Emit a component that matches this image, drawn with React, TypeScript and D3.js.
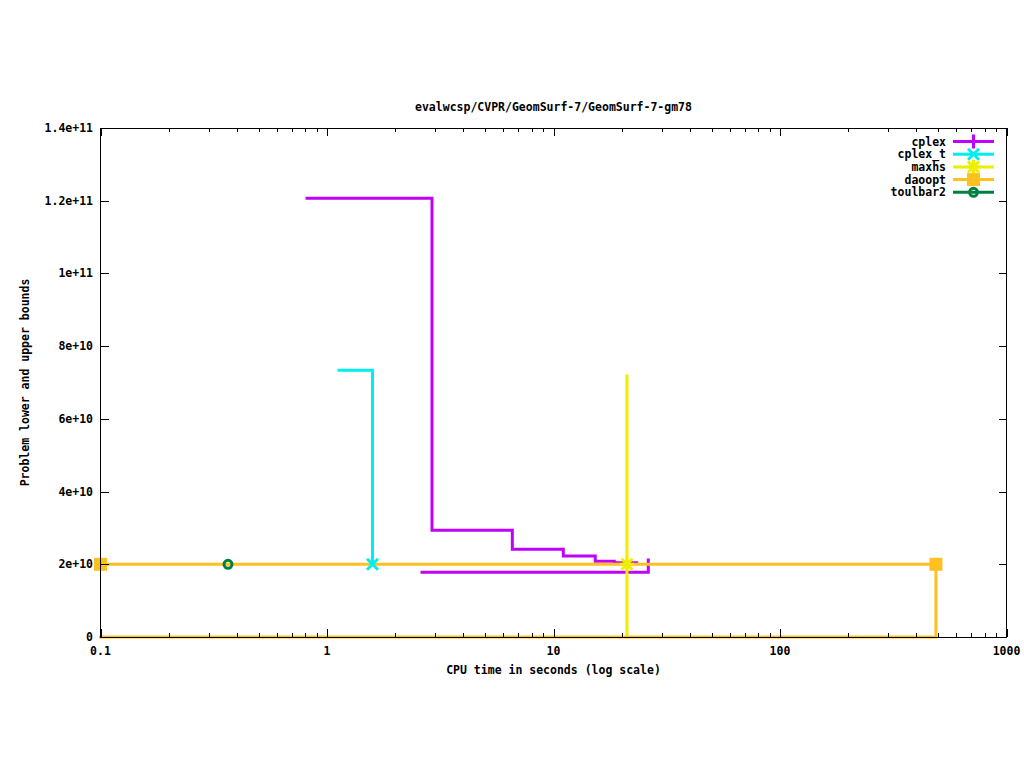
import React from "react";
import * as d3 from "d3";

// ---- data ----
const TITLE = "evalwcsp/CVPR/GeomSurf-7/GeomSurf-7-gm78";
const X_LABEL = "CPU time in seconds (log scale)";
const Y_LABEL = "Problem lower and upper bounds";
const xTickValues = [0.1, 1, 10, 100, 1000];
const xTickLabels = ["0.1", "1", "10", "100", "1000"];
const yTickValues = [0, 2e10, 4e10, 6e10, 8e10, 1e11, 1.2e11, 1.4e11];
const yTickLabels = ["0", "2e+10", "4e+10", "6e+10", "8e+10", "1e+11", "1.2e+11", "1.4e+11"];

const seriesNames = ["cplex", "cplex_t", "maxhs", "daoopt", "toulbar2"];
const seriesColors = ["#c000ff", "#00eeee", "#eeee00", "#ffc020", "#008040"];
const seriesMarkers = ["plus", "cross", "star", "square", "circle"];

// upper bound step series (time, value)
const cplexUpperT = [0.816, 2.908, 6.58, 11.05, 15.29, 18.55, 23.29];
const cplexUpperV = [1.2066e11, 2.935e10, 2.412e10, 2.228e10, 2.082e10, 2.043e10, 2.043e10];
const cplexLowerT = [2.627, 26.21];
const cplexLowerV = [1.779e10, 2.118e10];

const cplexTUpperT = [1.13, 1.588];
const cplexTUpperV = [7.335e10, 2.0e10];

const maxhsUpperT = [21.11, 21.11];
const maxhsUpperV = [7.179e10, 2.0e10];
const maxhsLowerT = [21.11, 21.11];
const maxhsLowerV = [0, 2.0e10];

const daooptUpperT = [0.1, 488];
const daooptUpperV = [2.0e10, 2.0e10];
const daooptLowerT = [0.1, 488];
const daooptLowerV = [0, 2.0e10];

// marker points
const cplexTPointT = [1.588];
const cplexTPointV = [2.0e10];
const maxhsPointT = [21.11];
const maxhsPointV = [2.0e10];
const daooptPointT = [0.1, 488];
const daooptPointV = [2.0e10, 2.0e10];
const toulbarPointT = [0.3655];
const toulbarPointV = [2.0e10];

// ---- layout ----
const W = 1024, H = 768;
const L = 100.5, R = 1006.5, T = 128, B = 637;
const FONT = "'DejaVu Sans Mono', 'Liberation Mono', monospace";

const x = d3.scaleLog().domain([0.1, 1000]).range([L, R]);
const y = d3.scaleLinear().domain([0, 1.4e11]).range([B, T]);

const stepLine = d3
  .line<[number, number]>()
  .x((d) => x(d[0]))
  .y((d) => y(d[1]))
  .curve(d3.curveStepAfter);

const zip = (ts: number[], vs: number[]) => ts.map((t, i) => [t, vs[i]] as [number, number]);

function Marker({ type, cx, cy, color }: { type: string; cx: number; cy: number; color: string }) {
  const sw = 3;
  if (type === "plus") {
    return (
      <g stroke={color} strokeWidth={sw}>
        <line x1={cx - 7} y1={cy} x2={cx + 7} y2={cy} />
        <line x1={cx} y1={cy - 7} x2={cx} y2={cy + 7} />
      </g>
    );
  }
  if (type === "cross") {
    return (
      <g stroke={color} strokeWidth={sw}>
        <line x1={cx - 5.5} y1={cy - 5.5} x2={cx + 5.5} y2={cy + 5.5} />
        <line x1={cx - 5.5} y1={cy + 5.5} x2={cx + 5.5} y2={cy - 5.5} />
      </g>
    );
  }
  if (type === "star") {
    return (
      <g stroke={color} strokeWidth={sw}>
        <line x1={cx - 5.5} y1={cy - 5.5} x2={cx + 5.5} y2={cy + 5.5} />
        <line x1={cx - 5.5} y1={cy + 5.5} x2={cx + 5.5} y2={cy - 5.5} />
        <line x1={cx - 7} y1={cy} x2={cx + 7} y2={cy} />
        <line x1={cx} y1={cy - 7} x2={cx} y2={cy + 7} />
      </g>
    );
  }
  if (type === "square") {
    return <rect x={cx - 6.5} y={cy - 6.5} width={13} height={13} fill={color} />;
  }
  return <circle cx={cx} cy={cy} r={4} fill="none" stroke={color} strokeWidth={3} />;
}

export default function App() {
  const lines: { d: string; color: string }[] = [
    { d: stepLine(zip(cplexUpperT, cplexUpperV)) || "", color: seriesColors[0] },
    { d: stepLine(zip(cplexLowerT, cplexLowerV)) || "", color: seriesColors[0] },
    { d: stepLine(zip(cplexTUpperT, cplexTUpperV)) || "", color: seriesColors[1] },
    { d: stepLine(zip(maxhsUpperT, maxhsUpperV)) || "", color: seriesColors[2] },
    { d: stepLine(zip(maxhsLowerT, maxhsLowerV)) || "", color: seriesColors[2] },
    { d: stepLine(zip(daooptUpperT, daooptUpperV)) || "", color: seriesColors[3] },
    { d: stepLine(zip(daooptLowerT, daooptLowerV)) || "", color: seriesColors[3] },
  ];

  const points: { t: number; v: number; s: number }[] = [
    ...zip(cplexTPointT, cplexTPointV).map(([t, v]) => ({ t, v, s: 1 })),
    ...zip(maxhsPointT, maxhsPointV).map(([t, v]) => ({ t, v, s: 2 })),
    ...zip(daooptPointT, daooptPointV).map(([t, v]) => ({ t, v, s: 3 })),
    ...zip(toulbarPointT, toulbarPointV).map(([t, v]) => ({ t, v, s: 4 })),
  ];

  // minor x ticks
  const minorX: number[] = [];
  for (let e = -1; e < 3; e++) {
    for (let k = 2; k <= 9; k++) minorX.push(k * Math.pow(10, e));
  }

  const textStyle: React.CSSProperties = {
    fontFamily: FONT,
    fontSize: "11.5px",
    fontWeight: "bold",
  };

  return (
    <svg
      width={W}
      height={H}
      style={{ position: "absolute", left: 0, top: 0, background: "#fff" }}
    >
      <rect x={0} y={0} width={W} height={H} fill="#fff" />

      {/* title */}
      <text x={(L + R) / 2} y={111} textAnchor="middle" style={textStyle} fill="#000">
        {TITLE}
      </text>

      {/* data lines */}
      <g fill="none" strokeWidth={3} strokeLinejoin="miter" strokeLinecap="square">
        {lines.map((l, i) => (
          <path key={i} d={l.d} stroke={l.color} />
        ))}
      </g>

      {/* markers */}
      {points.map((p, i) => (
        <Marker key={i} type={seriesMarkers[p.s]} cx={x(p.t)} cy={y(p.v)} color={seriesColors[p.s]} />
      ))}

      {/* frame */}
      <g shapeRendering="crispEdges" stroke="#000" strokeWidth={1}>
        <rect x={L} y={T} width={R - L} height={B - T} fill="none" />
        {yTickValues.map((v, i) => (
          <g key={"yt" + i}>
            <line x1={L} x2={L + 8} y1={Math.round(y(v)) + 0.5} y2={Math.round(y(v)) + 0.5} />
            <line x1={R - 8} x2={R} y1={Math.round(y(v)) + 0.5} y2={Math.round(y(v)) + 0.5} />
          </g>
        ))}
        {xTickValues.map((v, i) => (
          <g key={"xt" + i}>
            <line x1={Math.round(x(v)) + 0.5} x2={Math.round(x(v)) + 0.5} y1={B} y2={B - 8} />
            <line x1={Math.round(x(v)) + 0.5} x2={Math.round(x(v)) + 0.5} y1={T} y2={T + 8} />
          </g>
        ))}
        {minorX.map((v, i) => (
          <g key={"xm" + i}>
            <line x1={Math.round(x(v)) + 0.5} x2={Math.round(x(v)) + 0.5} y1={B} y2={B - 4} />
            <line x1={Math.round(x(v)) + 0.5} x2={Math.round(x(v)) + 0.5} y1={T} y2={T + 4} />
          </g>
        ))}
      </g>

      {/* tick labels */}
      {yTickValues.map((v, i) => (
        <text key={"yl" + i} x={93} y={y(v) + 4} textAnchor="end" style={textStyle} fill="#000">
          {yTickLabels[i]}
        </text>
      ))}
      {xTickValues.map((v, i) => (
        <text key={"xl" + i} x={x(v)} y={655} textAnchor="middle" style={textStyle} fill="#000">
          {xTickLabels[i]}
        </text>
      ))}

      {/* axis labels */}
      <text x={(L + R) / 2} y={674} textAnchor="middle" style={textStyle} fill="#000">
        {X_LABEL}
      </text>
      <text
        transform={`translate(29, ${(T + B) / 2}) rotate(-90)`}
        textAnchor="middle"
        style={textStyle}
        fill="#000"
      >
        {Y_LABEL}
      </text>

      {/* legend */}
      {seriesNames.map((name, i) => {
        const ly = 141.5 + i * 12.7;
        return (
          <g key={"lg" + i}>
            <text x={946} y={ly + 4} textAnchor="end" style={textStyle} fill="#000">
              {name}
            </text>
            <line x1={953} x2={994} y1={ly} y2={ly} stroke={seriesColors[i]} strokeWidth={3} />
            <Marker type={seriesMarkers[i]} cx={973.5} cy={ly} color={seriesColors[i]} />
          </g>
        );
      })}
    </svg>
  );
}
